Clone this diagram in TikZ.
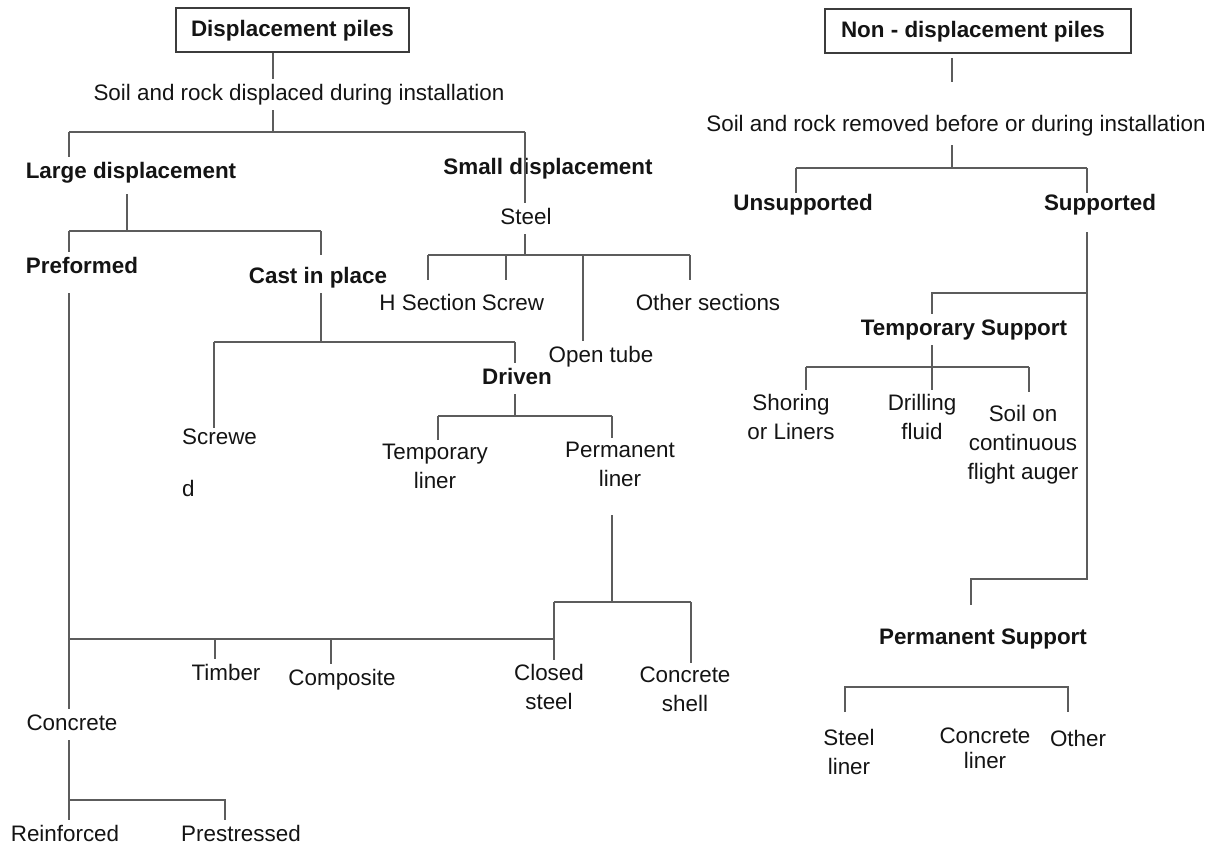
\documentclass[tikz,border=0pt]{standalone}
\usepackage{fontspec}
\setmainfont{Liberation Sans}
\definecolor{linegray}{HTML}{5C5C5C}
\definecolor{boxgray}{HTML}{3C3C3C}
\definecolor{txtcol}{HTML}{141414}
\tikzset{
  ln/.style={draw=linegray, line width=1.5pt},
  txt/.style={font=\fontsize{22.4}{29}\selectfont, text=txtcol, text height=16pt, text depth=5pt, inner xsep=1pt, inner ysep=5pt, anchor=base},
  txtb/.style={txt, font=\fontsize{22.4}{29}\selectfont\bfseries},
  mltxt/.style={font=\fontsize{22.4}{29}\selectfont, text=txtcol, align=center, inner xsep=1pt, inner ysep=4pt, anchor=north},
  pilebox/.style={draw=boxgray, line width=1.6pt, font=\fontsize{22.4}{29}\selectfont\bfseries, text=txtcol, text height=16.3pt, text depth=3pt, minimum height=44pt, inner sep=0pt}
}
\begin{document}
\begin{tikzpicture}[x=1pt,y=-1pt]
\useasboundingbox (0,0) rectangle (1217,846);
% ---------- left tree nodes
\node[pilebox, minimum width=233pt] (dp) at (292.5,30) {Displacement piles};
\node[txt] (s1) at (299,100) {Soil and rock displaced during installation};
\node[txtb] (ld) at (131,178) {Large displacement};
\node[txtb] (sd) at (548,174) {Small displacement};
\node[txt] (steel) at (526,224) {Steel};
\node[txtb] (pf) at (82,273) {Preformed};
\node[txtb] (cip) at (318,283) {Cast in place};
\node[txt] (hs) at (428,310) {H Section};
\node[txt] (sc) at (513,310) {Screw};
\node[txt] (ot) at (601,362) {Open tube};
\node[txt] (os) at (708,310) {Other sections};
\node[mltxt, anchor=north west, align=left] (scr) at (181,425) {Screwe\\[23pt]d};
\node[txtb] (dr) at (517,384) {Driven};
\node[mltxt] (tl) at (435,440) {Temporary\\liner};
\node[mltxt] (pl) at (620,438) {Permanent\\liner};
\node[mltxt] (cs) at (549,660) {Closed\\steel};
\node[mltxt] (csh) at (685,663) {Concrete\\shell};
\node[txt] (tim) at (226,680) {Timber};
\node[txt] (comp) at (342,685) {Composite};
\node[txt] (conc) at (72,730) {Concrete};
\node[txt] (rf) at (65,841) {Reinforced};
\node[txt] (ps) at (241,841) {Prestressed};
% ---------- right tree nodes
\node[pilebox, minimum width=306pt] (ndp) at (978,31) {Non - displacement piles\hspace*{10pt}};
\node[txt] (s2) at (956,131) {Soil and rock removed before or during installation};
\node[txtb] (uns) at (803,210) {Unsupported};
\node[txtb] (sup) at (1100,210) {Supported};
\node[txtb] (ts) at (964,335) {Temporary Support};
\node[mltxt] (sh) at (791,390) {Shoring\\or Liners};
\node[mltxt] (df) at (922,390) {Drilling\\fluid};
\node[mltxt] (sco) at (1023,401) {Soil on\\continuous\\flight auger};
\node[txtb] (ps2) at (983,644) {Permanent Support};
\node[mltxt] (stl) at (849,725) {Steel\\liner};
\node[mltxt, font=\fontsize{22.4}{25}\selectfont] (cl) at (985,724) {Concrete\\liner};
\node[txt] (oth) at (1078,746) {Other};
% ---------- junctions (left)
\coordinate (jA) at (273,132); \coordinate (jAl) at (69,132); \coordinate (jAr) at (525,132);
\coordinate (jB) at (127,231); \coordinate (jBl) at (69,231); \coordinate (jBr) at (321,231);
\coordinate (jC) at (69,639); \coordinate (jCr) at (554,639);
\coordinate (jT) at (215,639); \coordinate (jCo) at (331,639);
\coordinate (jD) at (69,800); \coordinate (jDr) at (225,800);
\coordinate (jE) at (321,342); \coordinate (jEl) at (214,342); \coordinate (jEr) at (515,342);
\coordinate (jF) at (515,416); \coordinate (jFl) at (438,416); \coordinate (jFr) at (612,416);
\coordinate (jG) at (612,602); \coordinate (jGl) at (554,602); \coordinate (jGr) at (691,602);
\coordinate (jH) at (525,255); \coordinate (jHa) at (428,255); \coordinate (jHb) at (506,255);
\coordinate (jHc) at (583,255); \coordinate (jHd) at (690,255);
% ---------- connectors (left)
\draw[ln] (dp.south -| jA) -- (s1.north -| jA);
\draw[ln] (s1.south -| jA) -- (jA);
\draw[ln] (jAl) -- (jAr);
\draw[ln] (jAl) -- (ld.north -| jAl);
\draw[ln] (jAr) -- (steel.north -| jAr);
\draw[ln] ([yshift=-6pt]ld.south -| jB) -- (jB);
\draw[ln] (jBl) -- (jBr);
\draw[ln] (jBl) -- (pf.north -| jBl);
\draw[ln] (jBr) -- ([yshift=7pt]cip.north -| jBr);
\draw[ln] ([yshift=-10pt]pf.south -| jBl) -- (conc.north -| jBl);
\draw[ln] (jC) -- (jCr);
\draw[ln] (jT) -- (tim.north -| jT);
\draw[ln] (jCo) -- (comp.north -| jCo);
\draw[ln] (conc.south -| jC) -- (rf.north -| jC);
\draw[ln] (jD) -- (jDr) -- (ps.north -| jDr);
\draw[ln] (cip.south -| jE) -- (jE);
\draw[ln] (jEl) -- (jEr);
\draw[ln] (jEl) -- ([yshift=-3pt]scr.north -| jEl);
\draw[ln] (jEr) -- (dr.north -| jEr);
\draw[ln] (dr.south -| jF) -- (jF);
\draw[ln] (jFl) -- (jFr);
\draw[ln] (jFl) -- (tl.north -| jFl);
\draw[ln] (jFr) -- (pl.north -| jFr);
\draw[ln] ([yshift=-24pt]pl.south -| jG) -- (jG);
\draw[ln] (jGl) -- (jGr);
\draw[ln] (jGl) -- (cs.north -| jGl);
\draw[ln] (jGr) -- (csh.north -| jGr);
\draw[ln] (steel.south -| jH) -- (jH);
\draw[ln] (jHa) -- (jHd);
\draw[ln] (jHa) -- ([yshift=9pt]hs.north -| jHa);
\draw[ln] (jHb) -- ([yshift=9pt]sc.north -| jHb);
\draw[ln] (jHc) -- (ot.north -| jHc);
\draw[ln] (jHd) -- ([yshift=9pt]os.north -| jHd);
% ---------- junctions (right)
\coordinate (jR) at (952,168); \coordinate (jRl) at (796,168); \coordinate (jRr) at (1087,168);
\coordinate (jS) at (1087,293); \coordinate (jSl) at (932,293);
\coordinate (jS2) at (1087,579); \coordinate (jS2l) at (971,579);
\coordinate (jU) at (932,367); \coordinate (jUl) at (806,367); \coordinate (jUr) at (1029,367);
\coordinate (jV) at (845,687); \coordinate (jVr) at (1068,687);
% ---------- connectors (right)
\draw[ln] ([yshift=-4pt]ndp.south -| jR) -- ([yshift=28pt]s2.north -| jR);
\draw[ln] ([yshift=-4pt]s2.south -| jR) -- (jR);
\draw[ln] (jRl) -- (jRr);
\draw[ln] (jRl) -- ([yshift=-4pt]uns.north -| jRl);
\draw[ln] (jRr) -- ([yshift=-4pt]sup.north -| jRr);
\draw[ln] ([yshift=-12pt]sup.south -| jS) -- (jS2) -- (jS2l) -- ([yshift=18pt]ps2.north -| jS2l);
\draw[ln] (jS) -- (jSl) -- (ts.north -| jSl);
\draw[ln] (ts.south -| jU) -- (df.north -| jU);
\draw[ln] (jUl) -- (jUr);
\draw[ln] (jUl) -- (sh.north -| jUl);
\draw[ln] (jUr) -- ([yshift=9pt]sco.north -| jUr);
\draw[ln] ([yshift=13pt]stl.north -| jV) -- (jV) -- (jVr) -- ([yshift=13pt]oth.north -| jVr);
\end{tikzpicture}
\end{document}
